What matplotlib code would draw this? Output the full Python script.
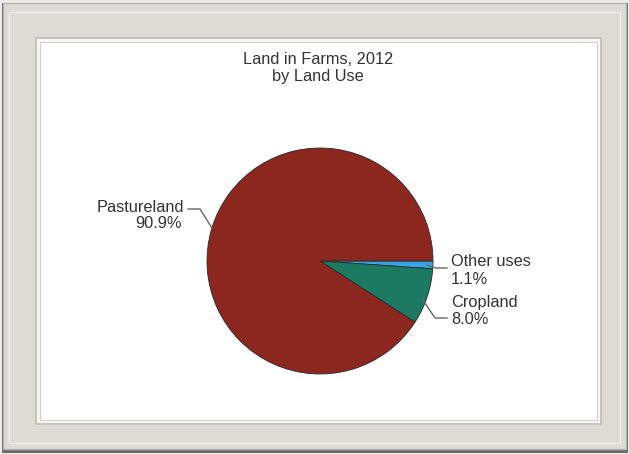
import matplotlib.pyplot as plt
from matplotlib.patches import Rectangle

plt.rcParams['font.family'] = ['Liberation Sans', 'DejaVu Sans']

# data
labels = ['Other uses', 'Cropland', 'Pastureland']
shares = [1.1, 8.0, 90.9]
colors = ['#3aa6e6', '#1c7a62', '#8c2720']

W, H = 629, 454

fig = plt.figure(figsize=(W / 100, H / 100), dpi=100)
fig.patch.set_facecolor('#ececea')
ax = fig.add_axes([0, 0, 1, 1])

def py(y):
    # pixel row -> data y
    return H - y

## picture frame
ax.add_patch(Rectangle((2, py(453)), 626, 450, facecolor='#6a6a68', edgecolor='none'))
ax.add_patch(Rectangle((3, py(449)), 623, 446, facecolor='#dcdbd4', edgecolor='#b4b4b0', lw=1))
ax.add_patch(Rectangle((9, py(443)), 611, 431, facecolor='none', edgecolor='#f2f2ec', lw=1))
ax.add_patch(Rectangle((36, py(424)), 565, 386, facecolor='#f7f7f5', edgecolor='#bdbdb8', lw=1.2))
ax.add_patch(Rectangle((40, py(420)), 557, 378, facecolor='white', edgecolor='#cfcfcb', lw=0.8))

## pie
cx, cy, r = 320, py(261), 113
ax.pie(shares, colors=colors, startangle=0, counterclock=False,
       center=(cx, cy), radius=r, frame=True,
       wedgeprops=dict(edgecolor='#2a2a2a', linewidth=0.6))

## titles
fs = 11.8
tc = '#333333'
ax.text(318, py(59), 'Land in Farms, 2012', ha='center', va='center', fontsize=fs, color=tc)
ax.text(318, py(76), 'by Land Use', ha='center', va='center', fontsize=fs, color=tc)

## labels + leader lines
lc = '#666666'
ax.plot([188, 200, 212], [py(209), py(209), py(228)], color=lc, lw=1)
ax.text(184, py(207), 'Pastureland', ha='right', va='center', fontsize=fs, color=tc)
ax.text(182, py(223), '90.9%', ha='right', va='center', fontsize=fs, color=tc)

ax.plot([427, 436, 447], [py(265), py(268), py(268)], color=lc, lw=1)
ax.text(451, py(262), 'Other uses', ha='left', va='center', fontsize=fs, color=tc)
ax.text(451, py(280), '1.1%', ha='left', va='center', fontsize=fs, color=tc)

ax.plot([423, 435, 447], [py(300), py(318), py(318)], color=lc, lw=1)
ax.text(451, py(302), 'Cropland', ha='left', va='center', fontsize=fs, color=tc)
ax.text(451, py(320), '8.0%', ha='left', va='center', fontsize=fs, color=tc)

ax.set_xlim(0, W)
ax.set_ylim(0, H)
ax.set_aspect('equal')
ax.axis('off')

plt.savefig('out.png', dpi=100)
